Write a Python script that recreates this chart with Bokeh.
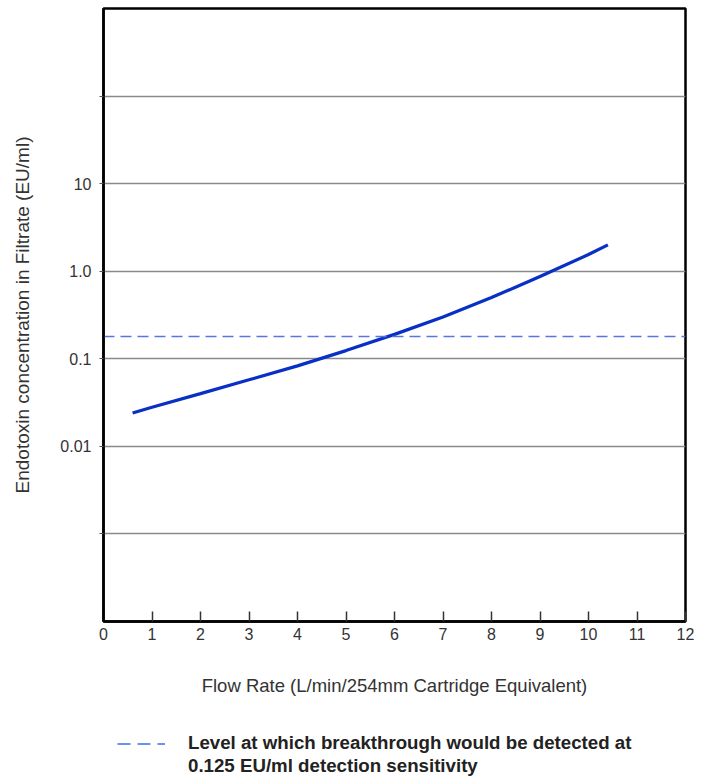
from bokeh.plotting import figure
from bokeh.models import FixedTicker, Legend, LegendItem
from bokeh.layouts import column
from bokeh.embed import file_html
from bokeh.resources import INLINE

flow_rate = [0.6, 1, 2, 3, 4, 5, 6, 7, 8, 9, 10, 10.4]
endotoxin = [0.024, 0.0279, 0.040, 0.0575, 0.083, 0.124, 0.19, 0.30, 0.50, 0.87, 1.55, 2.0]
detection_level = 0.18
x_ticks = list(range(0, 13))
y_ticks = [0.001, 0.01, 0.1, 1, 10, 100]
y_labels = {0.001: "", 0.01: "0.01", 0.1: "0.1", 1: "1.0", 10: "10", 100: ""}
legend_line1 = "Level at which breakthrough would be detected at"
legend_line2 = "0.125 EU/ml detection sensitivity"

FONT = "Liberation Sans"

p = figure(width=708, height=705, y_axis_type="log", x_range=(0, 12), y_range=(1e-4, 1e3),
           output_backend="svg", toolbar_location=None,
           min_border_left=103, min_border_right=23, min_border_top=8, min_border_bottom=84)
p.background_fill_color = "white"
p.border_fill_color = "white"
p.outline_line_color = "black"
p.outline_line_width = 2.5

p.xgrid.visible = False
p.ygrid.ticker = FixedTicker(ticks=y_ticks)
p.ygrid.grid_line_color = "#8a8a8a"
p.ygrid.grid_line_width = 1.5

p.xaxis.ticker = FixedTicker(ticks=x_ticks)
p.xaxis.major_tick_in = 10
p.xaxis.major_tick_out = 0
p.xaxis.minor_tick_line_color = None
p.xaxis.axis_line_width = 2.5
p.xaxis.major_tick_line_width = 1.5
p.xaxis.major_tick_line_color = "#333333"
p.xaxis.major_label_text_font = FONT
p.xaxis.major_label_text_font_size = "16px"
p.xaxis.major_label_text_color = "#333333"
p.xaxis.major_label_standoff = 6
p.xaxis.axis_label = "Flow Rate (L/min/254mm Cartridge Equivalent)"
p.xaxis.axis_label_text_font = FONT
p.xaxis.axis_label_text_font_style = "normal"
p.xaxis.axis_label_text_font_size = "18.5px"
p.xaxis.axis_label_text_color = "#333333"
p.xaxis.axis_label_standoff = 32

p.yaxis.ticker = FixedTicker(ticks=y_ticks)
p.yaxis.major_label_overrides = y_labels
p.yaxis.major_tick_in = 0
p.yaxis.major_tick_out = 4
p.yaxis.minor_tick_line_color = None
p.yaxis.axis_line_width = 2.5
p.yaxis.major_tick_line_color = "#555555"
p.yaxis.major_label_text_font = FONT
p.yaxis.major_label_text_font_size = "16px"
p.yaxis.major_label_text_color = "#333333"
p.yaxis.major_label_standoff = 8
p.yaxis.axis_label = "Endotoxin concentration in Filtrate (EU/ml)"
p.yaxis.axis_label_text_font = FONT
p.yaxis.axis_label_text_font_style = "normal"
p.yaxis.axis_label_text_font_size = "19px"
p.yaxis.axis_label_text_color = "#333333"
p.yaxis.axis_label_standoff = 24

p.line(flow_rate, endotoxin, line_color="#0830c4", line_width=3.2)
p.line([0, 12], [detection_level, detection_level], line_color="#5a73e0",
       line_width=1.6, line_dash="11 6")

# separate strip below the chart that holds the legend (its frame aligns with the chart's)
lg = figure(width=708, height=72, x_range=(100, 101), y_range=(100, 101),
            x_axis_location=None, y_axis_location=None,
            output_backend="svg", toolbar_location=None,
            min_border_left=0, min_border_right=0, min_border_top=0, min_border_bottom=0)
lg.grid.visible = False
lg.outline_line_color = None
lg.background_fill_color = "white"
lg.border_fill_color = "white"

# legend proxies: same series as the chart's dashed line, lying outside this strip's ranges
proxy_dash = lg.line([0, 12], [detection_level, detection_level], line_color="#3b6ef0",
                     line_width=1.5, line_dash="13 7")
proxy_blank = lg.line([0, 12], [detection_level, detection_level], line_color="white", line_alpha=0)

legend = Legend(items=[LegendItem(label=legend_line1, renderers=[proxy_dash]),
                       LegendItem(label=legend_line2, renderers=[proxy_blank])],
                location=(14, 0), orientation="vertical",
                label_text_font=FONT, label_text_font_style="bold",
                label_text_font_size="18.7px", label_text_color="#222222",
                glyph_width=48, glyph_height=15, label_height=15, spacing=1,
                label_standoff=23,
                border_line_color=None, background_fill_alpha=0,
                margin=0, padding=0)
lg.add_layout(legend)

layout = column(p, lg, spacing=0)
open("out.html", "w").write(file_html(layout, INLINE))
